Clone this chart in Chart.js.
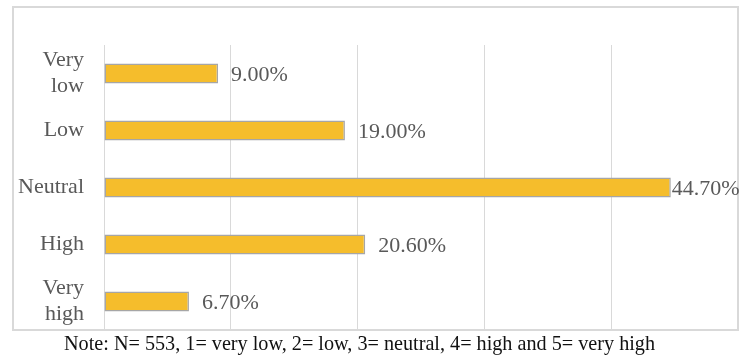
<!DOCTYPE html>
<html>
<head>
<meta charset="utf-8">
<script src="https://cdn.jsdelivr.net/npm/chart.js@4/dist/chart.umd.min.js"></script>
<style>
  body { margin: 0; background: #fff; }
  #wrap { position: relative; width: 739px; height: 357px; }
  #frame { position: absolute; left: 12px; top: 6px; width: 727px; height: 325px;
           border: 2px solid #d9d9d9; box-sizing: border-box; }
  #chart { position: absolute; left: 0; top: 0; }
  #note { position: absolute; left: 64px; top: 332px; white-space: nowrap;
          font-family: "Liberation Serif", "Times New Roman", serif; font-size: 20.2px; color: #111; }
</style>
</head>
<body>
<div id="wrap">
  <div id="frame"></div>
  <canvas id="chart" width="739" height="357"></canvas>
  <div id="note">Note: N= 553, 1= very low, 2= low, 3= neutral, 4= high and 5= very high</div>
</div>
<script>
let categories = [["Very", "low"], "Low", "Neutral", "High", ["Very", "high"]];
let percents = [9.0, 19.0, 44.7, 20.6, 6.7];
let axis_max = 50;
let axis_step = 10;

let bar_gold = "rgb(245,189,44)";
let bar_edge = "rgb(166,166,166)";
let grid_gray = "rgb(217,217,217)";
let text_gray = "rgb(89,89,89)";
let serif = '"Liberation Serif", "Times New Roman", serif';

// value labels to the right of each bar, like Excel's "outside end"
let valueLabels = {
  id: 'valueLabels',
  afterDatasetsDraw(chart) {
    let ctx = chart.ctx;
    let meta = chart.getDatasetMeta(0);
    ctx.save();
    ctx.font = '22px ' + serif;
    ctx.fillStyle = text_gray;
    ctx.textBaseline = 'middle';
    ctx.textAlign = 'left';
    meta.data.forEach(function(bar, i) {
      let txt = percents[i].toFixed(2) + '%';
      let w = ctx.measureText(txt).width;
      let x = bar.x + 13;
      if (x + w > chart.width) x = bar.x + 1;
      ctx.fillText(txt, x, bar.y + 2);
    });
    ctx.restore();
  }
};

let ctx = document.getElementById('chart').getContext('2d');
let newBar = new Chart(ctx, {
  type: 'bar',
  data: {
    labels: categories,
    datasets: [{
      data: percents,
      backgroundColor: bar_gold,
      borderColor: bar_edge,
      borderWidth: 1.5,
      borderSkipped: false,
      barPercentage: 0.35,
      categoryPercentage: 1
    }]
  },
  options: {
    indexAxis: 'y',
    responsive: false,
    animation: false,
    layout: {
      padding: { left: 0, right: 1, top: 45, bottom: 27 }
    },
    plugins: {
      legend: { display: false },
      tooltip: { enabled: false }
    },
    scales: {
      x: {
        min: 0,
        max: axis_max,
        ticks: { display: false, stepSize: axis_step },
        grid: { color: grid_gray, lineWidth: 1, drawTicks: false },
        border: { display: false },
        afterFit(scale) { scale.height = 0; }
      },
      y: {
        ticks: {
          color: text_gray,
          padding: 20,
          font: { family: serif, size: 22 }
        },
        grid: { display: false, drawTicks: false },
        border: { display: false },
        afterFit(scale) {
          scale.width = 104;
          // labels sit inside the offset bands, no extra room needed
          scale.paddingTop = 0;
          scale.paddingBottom = 0;
        }
      }
    }
  },
  plugins: [valueLabels]
});
</script>
</body>
</html>
